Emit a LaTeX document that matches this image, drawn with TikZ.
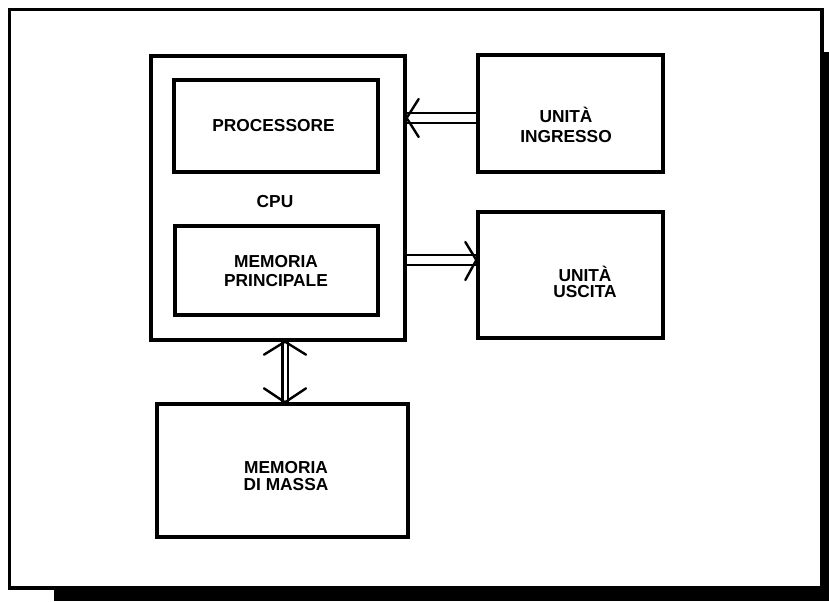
\documentclass[tikz,border=0pt]{standalone}
\usepackage{fontspec}
\setmainfont{Liberation Sans}
\usetikzlibrary{calc}
\begin{document}
\begin{tikzpicture}[x=0.75pt,y=-0.75pt,
  box/.style={draw, rectangle, line width=2.5pt, inner sep=0pt},
  lab/.style={align=center, inner sep=0pt},
  arr/.style={line width=1.8pt, line cap=round, line join=round}]
\useasboundingbox (0,0) rectangle (829,601);
\fill[white] (0,0) rectangle (829,601);
% frame with shadow
\draw[line width=2.3pt] (9.5,9.5) rectangle (822,588);
\fill (823,52) rectangle (829,601);
\fill (54,589) rectangle (829,601);
% boxes
\node[box, minimum width=254*0.75pt, minimum height=284*0.75pt] (cpu) at (278,198) {};
\node[box, minimum width=204*0.75pt, minimum height=92*0.75pt] (proc) at (276,126) {};
\node[box, minimum width=203*0.75pt, minimum height=89*0.75pt] (mp) at (276.5,270.5) {};
\node[box, minimum width=185*0.75pt, minimum height=117*0.75pt] (ing) at (570.5,113.5) {};
\node[box, minimum width=185*0.75pt, minimum height=126*0.75pt] (usc) at (570.5,275) {};
\node[box, minimum width=251*0.75pt, minimum height=133*0.75pt] (mas) at (282.5,470.5) {};
% labels
\node[lab, font=\fontsize{13}{14}\selectfont\bfseries] (tproc) at (273.5,126) {PROCESSORE};
\node[lab, font=\fontsize{13}{14}\selectfont\bfseries] (tcpu) at (275,201.5) {CPU};
\node[lab, font=\fontsize{13}{13.7}\selectfont\bfseries] (tmp) at (276,271) {MEMORIA\\PRINCIPALE};
\node[lab, font=\fontsize{13}{15}\selectfont\bfseries] (ting) at (566,125) {UNITÀ\\INGRESSO};
\node[lab, font=\fontsize{13}{11.8}\selectfont\bfseries] (tusc) at (585,282) {UNITÀ\\USCITA};
\node[lab, font=\fontsize{13}{13.3}\selectfont\bfseries] (tmas) at (286,476) {MEMORIA\\DI MASSA};
% input arrow: ingresso -> cpu
\draw[arr] (ing.west |- 0,113) -- (cpu.east |- 0,113);
\draw[arr] (ing.west |- 0,123) -- (cpu.east |- 0,123);
\draw[arr] ($(cpu.east |- 0,118)+(12,-19)$) -- (cpu.east |- 0,118) -- ($(cpu.east |- 0,118)+(12,19)$);
% output arrow: cpu -> uscita
\draw[arr] (cpu.east |- 0,255) -- (usc.west |- 0,255);
\draw[arr] (cpu.east |- 0,265) -- (usc.west |- 0,265);
\draw[arr] ($(usc.west |- 0,260)+(-11,-18)$) -- (usc.west |- 0,260) -- ($(usc.west |- 0,260)+(-11,20)$);
% bidirectional arrow: cpu <-> memoria di massa
\draw[arr] (282.5,0 |- cpu.south) -- (282.5,0 |- mas.north);
\draw[arr] (288,0 |- cpu.south) -- (288,0 |- mas.north);
\draw[arr] ($(285,0 |- cpu.south)+(-21,13)$) -- (285,0 |- cpu.south) -- ($(285,0 |- cpu.south)+(21,13)$);
\draw[arr] ($(285,0 |- mas.north)+(-21,-14)$) -- (285,0 |- mas.north) -- ($(285,0 |- mas.north)+(21,-14)$);
\end{tikzpicture}
\end{document}
